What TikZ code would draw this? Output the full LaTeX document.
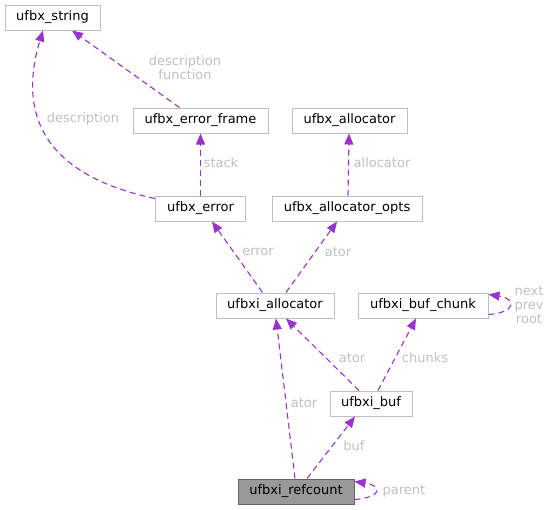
\documentclass[tikz,border=0pt]{standalone}
\usepackage{fontspec}
\setmainfont{DejaVu Sans}
\usetikzlibrary{arrows.meta}
\definecolor{edgecol}{HTML}{9A32CD}
\definecolor{boxcol}{HTML}{BFBFBF}
\definecolor{lblcol}{HTML}{C0C0C0}
\tikzset{
  box/.style={draw=boxcol, fill=white, line width=1pt, minimum height=25pt, inner sep=0pt},
  curbox/.style={box, draw=black!60, fill=black!40},
  edge/.style={draw=edgecol, line width=1.1pt, dash pattern=on 6pt off 4pt, -{Triangle[length=11pt,width=9pt]}},
  lbl/.style={text=lblcol, align=center, inner sep=0pt}
}
\begin{document}
\begin{tikzpicture}[x=1pt, y=-1pt, font=\fontsize{13}{14}\selectfont]
  \useasboundingbox (0,0) rectangle (551,509);

  % Klassen
  \node[box, minimum width=95pt]  (str)   at (52.5,17.5)  {ufbx\_string};
  \node[box, minimum width=135pt] (frame) at (200.5,120.5) {ufbx\_error\_frame};
  \node[box, minimum width=115pt] (alloc) at (349.5,120.5) {ufbx\_allocator};
  \node[box, minimum width=90pt]  (err)   at (200.5,208.5) {ufbx\_error};
  \node[box, minimum width=150pt] (opts)  at (347,208.5)   {ufbx\_allocator\_opts};
  \node[box, minimum width=118pt] (ialloc) at (275,305.5)  {ufbxi\_allocator};
  \node[box, minimum width=130pt] (chunk) at (423,305.5)   {ufbxi\_buf\_chunk};
  \node[box, minimum width=82pt]  (buf)   at (371,403.5)   {ufbxi\_buf};
  \node[curbox, minimum width=116pt] (ref) at (296,491.5)  {ufbxi\_refcount};

  % Kanten
  \draw[edge] ([xshift=-21pt]frame.north) -- ([xshift=19.5pt]str.south);
  \draw[edge] ([yshift=-3pt]err.north west) .. controls (20,170) and (25,90) .. ([xshift=-9.5pt]str.south);
  \draw[edge] (err.north) -- (frame.south);
  \draw[edge] ([xshift=1pt]opts.north) -- ([xshift=-0.5pt]alloc.south);
  \draw[edge] ([xshift=-12.5pt]ialloc.north) -- ([xshift=11.5pt]err.south);
  \draw[edge] ([xshift=11pt]ialloc.north) -- ([xshift=-10pt]opts.south);
  \draw[edge] ([xshift=-12pt]buf.north) -- ([xshift=11pt]ialloc.south);
  \draw[edge] ([xshift=7pt]buf.north) -- ([xshift=-7pt]chunk.south);
  \draw[edge] ([xshift=-1pt]ref.north) -- ([xshift=1pt]ialloc.south);
  \draw[edge] ([xshift=11pt]ref.north) -- ([xshift=-16pt]buf.south);

  % Schleifen
  \draw[edge] ([yshift=4pt]chunk.south east) .. controls +(28,-2) and +(28,4) .. ([yshift=-2pt]chunk.north east);
  \draw[edge] ([yshift=5pt]ref.south east) .. controls +(28,-2) and +(28,4) .. ([yshift=-3pt]ref.north east);

  % Beschriftungen
  \node[lbl] (l1) at (185,68)  {description\\function};
  \node[lbl] (l2) at (83,119)  {description};
  \node[lbl] (l3) at (221,163) {stack};
  \node[lbl] (l4) at (382,163) {allocator};
  \node[lbl] (l5) at (258,252) {error};
  \node[lbl] (l6) at (338,252) {ator};
  \node[lbl] (l7) at (352,358) {ator};
  \node[lbl] (l8) at (425,358) {chunks};
  \node[lbl] (l9) at (304,403) {ator};
  \node[lbl] (l10) at (354,446) {buf};
  \node[lbl] (l11) at (529,305) {next\\prev\\root};
  \node[lbl] (l12) at (404,491) {parent};
\end{tikzpicture}
\end{document}
